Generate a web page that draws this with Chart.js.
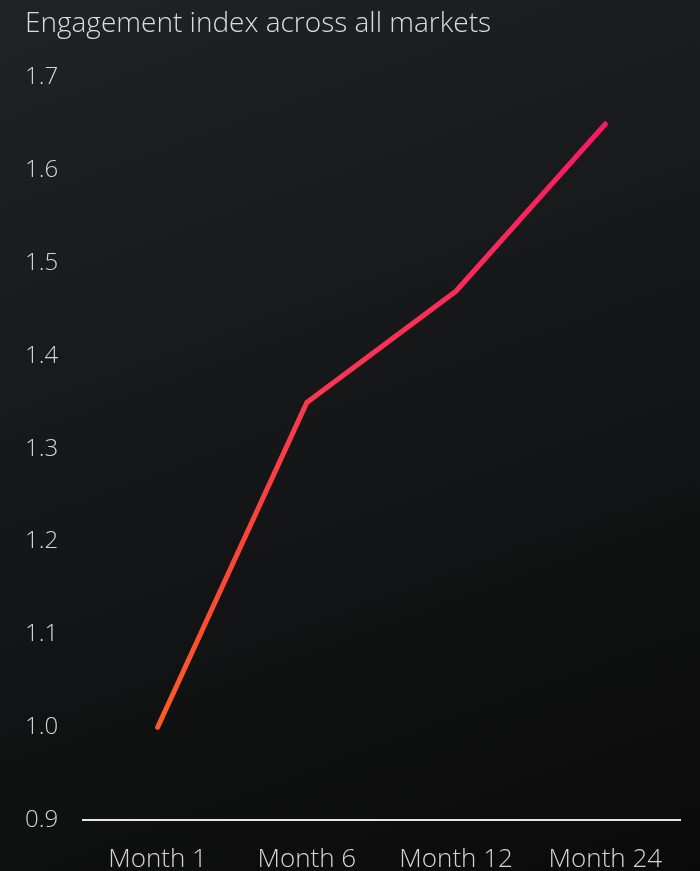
<!DOCTYPE html>
<html>
<head>
<meta charset="utf-8">
<script src="https://cdn.jsdelivr.net/npm/chart.js@4"></script>
<style>
  html, body { margin: 0; padding: 0; }
  body {
    width: 700px; height: 871px; overflow: hidden;
    background: linear-gradient(160deg, #212223 0%, #151617 50%, #0a0a0a 100%);
  }
  #wrap { width: 700px; height: 871px; }
</style>
</head>
<body>
<div id="wrap"><canvas id="engagementChart" width="700" height="871"></canvas></div>
<script>
const months = ['Month 1', 'Month 6', 'Month 12', 'Month 24'];
const engagement = [1.0, 1.35, 1.47, 1.65];
const yTicks = [0.9, 1.0, 1.1, 1.2, 1.3, 1.4, 1.5, 1.6, 1.7];

const textColor = '#d4d4d4';
const fontFamily = '"Open Sans", "Noto Sans", sans-serif';

// orange at the bottom of the plot fading to hot pink at the top
function lineGradient(context) {
    const area = context.chart.chartArea;
    if (!area) return '#ff3b4e';
    const g = context.chart.ctx.createLinearGradient(0, area.bottom, 0, area.top);
    g.addColorStop(0, '#ff6a1a');
    g.addColorStop(0.3, '#ff4a33');
    g.addColorStop(0.6, '#ff3552');
    g.addColorStop(1, '#ff1468');
    return g;
}

const ctx = document.getElementById('engagementChart').getContext('2d');

new Chart(ctx, {
    type: 'line',
    data: {
        labels: months,
        datasets: [{
            label: 'Engagement index',
            data: engagement,
            borderColor: lineGradient,
            borderWidth: 5,
            borderCapStyle: 'round',
            borderJoinStyle: 'miter',
            pointRadius: 0,
            tension: 0,
            fill: false
        }]
    },
    options: {
        responsive: false,
        animation: false,
        layout: { padding: { left: 25, right: 20, top: 0, bottom: 0 } },
        plugins: {
            legend: { display: false },
            tooltip: { enabled: false },
            title: {
                display: true,
                text: 'Engagement index across all markets',
                align: 'start',
                color: '#dcdcdc',
                font: { family: fontFamily, size: 28, weight: '300' },
                padding: { top: 7, bottom: 37 }
            }
        },
        scales: {
            y: {
                min: 0.9,
                max: 1.7,
                afterBuildTicks: axis => { axis.ticks = yTicks.map(v => ({ value: v })); },
                afterFit: axis => { axis.width = 58; },
                grid: { display: false, drawTicks: false },
                border: { display: false },
                ticks: {
                    color: textColor,
                    padding: 26,
                    crossAlign: 'far',
                    font: { family: fontFamily, size: 24, weight: '300' },
                    callback: v => Number(v).toFixed(1)
                }
            },
            x: {
                offset: true,
                afterFit: axis => { axis.height = 51; },
                grid: { display: false, drawTicks: false },
                border: { display: true, color: '#e6e6e6', width: 2 },
                ticks: {
                    color: textColor,
                    padding: 24,
                    maxRotation: 0,
                    font: { family: fontFamily, size: 26, weight: '300' }
                }
            }
        }
    }
});
</script>
</body>
</html>
